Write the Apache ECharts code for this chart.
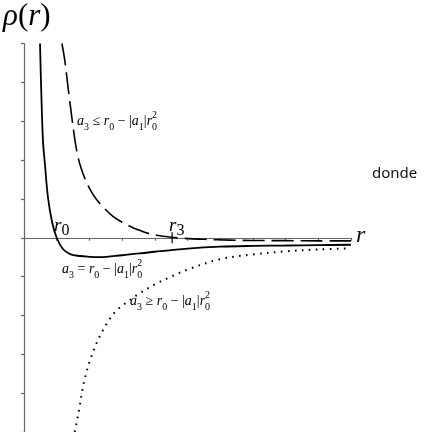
<!DOCTYPE html>
<html>
<head>
<meta charset="utf-8">
<script src="https://cdn.jsdelivr.net/npm/echarts@6/dist/echarts.min.js"></script>
<style>
  html, body { margin: 0; padding: 0; background: #fff; }
  #chart { width: 428px; height: 432px; }
</style>
</head>
<body>
<div id="chart"></div>
<script>
// Density profiles rho(r) for the three cases of a3
const solidR = [0.49, 0.52, 0.58, 0.64, 0.73, 0.86, 1.0, 1.19, 1.41, 1.71, 2.0, 2.3, 3.0, 4.0, 5.0, 6.0, 7.0, 8.0, 9.0, 10.0];
const solidV = [5.0, 4.0, 2.5, 1.9, 1.06, 0.4, 0.0, -0.29, -0.42, -0.47, -0.49, -0.5, -0.45, -0.36, -0.28, -0.23, -0.21, -0.2, -0.19, -0.18];

const dashR = [1.16, 1.25, 1.35, 1.47, 1.56, 1.65, 1.75, 1.85, 1.96, 2.1, 2.26, 2.5, 2.72, 3.0, 3.33, 3.6, 3.85, 4.1, 4.4, 4.8, 5.5, 6.3, 7.0, 8.0, 9.0, 10.0];
const dashV = [5.0, 4.55, 3.85, 3.05, 2.5, 2.08, 1.78, 1.55, 1.34, 1.13, 0.94, 0.72, 0.55, 0.4, 0.26, 0.17, 0.1, 0.06, 0.025, -0.01, -0.04, -0.06, -0.07, -0.075, -0.08, -0.08];

const dotR = [1.55, 1.6, 1.7, 1.8, 1.9, 2.0, 2.2, 2.4, 2.6, 2.8, 3.0, 3.5, 4.0, 4.5, 5.0, 6.0, 7.0, 8.0, 9.0, 10.0];
const dotV = [-5.0, -4.8, -4.35, -3.85, -3.5, -3.2, -2.75, -2.4, -2.12, -1.9, -1.75, -1.45, -1.2, -1.0, -0.82, -0.55, -0.43, -0.35, -0.3, -0.27];

// marked radii on the r axis
const r0 = 1.0;
const r3 = 4.53;

const zip = (xs, ys) => xs.map((x, i) => [x, ys[i]]);

const chart = echarts.init(document.getElementById('chart'), null, { renderer: 'canvas' });

const mathFont = "'Liberation Serif', 'DejaVu Serif', serif";
const grey = '#555';
const richMath = (size, color, subScale) => ({
  i: { fontFamily: mathFont, fontStyle: 'italic', fontSize: size, color: color, lineHeight: size + 8, verticalAlign: 'middle' },
  n: { fontFamily: mathFont, fontSize: size, color: color, lineHeight: size + 8, verticalAlign: 'middle' },
  sb: { fontFamily: mathFont, fontSize: Math.round(size * subScale), color: color, verticalAlign: 'bottom' },
  sbz: { fontFamily: mathFont, fontSize: Math.round(size * subScale), color: color, verticalAlign: 'bottom', width: 0 },
  sp: { fontFamily: mathFont, fontSize: Math.round(size * subScale), color: color, verticalAlign: 'top' }
});
const relation = op => '{i|a}{sb|3}{n| ' + op + ' }{i|r}{sb|0}{n| − |}{i|a}{sb|1}{n||}{i|r}{sbz|0}{sp|2}';

const lineBase = { type: 'line', showSymbol: false, smooth: 0.35, silent: true, z: 3 };

chart.setOption({
  animation: false,
  grid: { left: 24, top: 43.5, width: 327, height: 390, containLabel: false },
  xAxis: {
    type: 'value', min: 0, max: 10, interval: 1,
    axisLine: { show: true, onZero: true, lineStyle: { color: '#666', width: 1.2 } },
    axisTick: { show: true, length: 3, lineStyle: { color: '#666', width: 1.2 } },
    axisLabel: { show: false },
    splitLine: { show: false }
  },
  yAxis: {
    type: 'value', min: -5, max: 5, interval: 1,
    axisLine: { show: true, onZero: true, lineStyle: { color: '#666', width: 1.2 } },
    axisTick: { show: true, length: 3, lineStyle: { color: '#666', width: 1.2 } },
    axisLabel: { show: false },
    splitLine: { show: false }
  },
  series: [
    Object.assign({}, lineBase, {
      name: 'eq', data: zip(solidR, solidV),
      lineStyle: { color: '#000', width: 1.8 }
    }),
    Object.assign({}, lineBase, {
      name: 'le', data: zip(dashR, dashV),
      lineStyle: { color: '#000', width: 1.6, type: [22, 7] }
    }),
    Object.assign({}, lineBase, {
      name: 'ge', data: zip(dotR, dotV),
      lineStyle: { color: '#000', width: 2, type: [1.6, 5.4], cap: 'butt' }
    }),
    {
      type: 'line', name: 'r3tick', showSymbol: false, silent: true, z: 4,
      data: [[r3, 0.14], [r3, -0.14]],
      lineStyle: { color: '#000', width: 1.2 }
    }
  ],
  graphic: [
    {
      type: 'text', left: 3, top: 1,
      style: {
        text: '{i|ρ}{n|(}{i|r}{n|)}',
        rich: {
          i: { fontFamily: mathFont, fontStyle: 'italic', fontSize: 31, color: '#111' },
          n: { fontFamily: mathFont, fontSize: 31, color: '#111' }
        }
      }
    },
    {
      type: 'text', left: 356, top: 224,
      style: { text: 'r', font: "italic 24px 'Liberation Serif'", fill: '#111' }
    },
    {
      type: 'text', left: 372, top: 166,
      style: { text: 'donde', font: "15px 'Noto Sans'", fill: '#111' }
    },
    {
      type: 'text', left: 54, top: 216,
      style: { text: '{i|r}{sb|0}', rich: richMath(19, '#111', 0.85) }
    },
    {
      type: 'text', left: 169, top: 216,
      style: { text: '{i|r}{sb|3}', rich: richMath(19, '#111', 0.85) }
    },
    {
      type: 'text', left: 77, top: 110,
      style: { text: relation('≤'), rich: richMath(14, grey, 0.68) }
    },
    {
      type: 'text', left: 62, top: 258,
      style: { text: relation('='), rich: richMath(14, grey, 0.68) }
    },
    {
      type: 'text', left: 130, top: 290,
      style: { text: relation('≥'), rich: richMath(14, grey, 0.68) }
    }
  ]
});
</script>
</body>
</html>
